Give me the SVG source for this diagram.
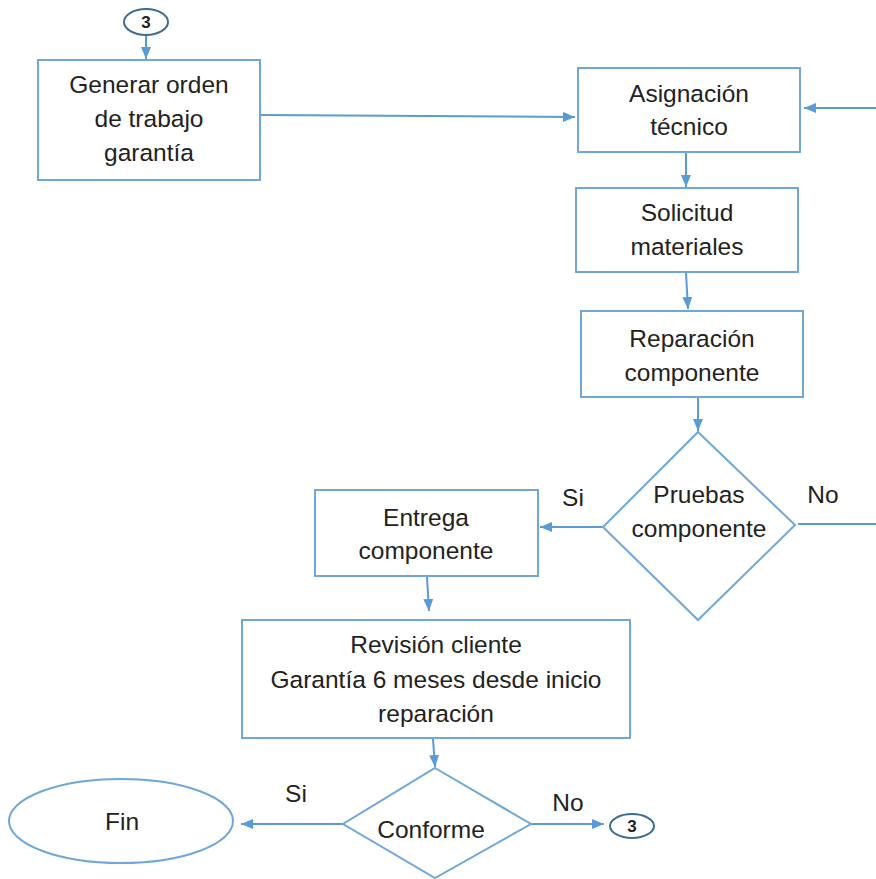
<svg xmlns="http://www.w3.org/2000/svg" width="876" height="879" viewBox="0 0 876 879">
<style>
.box{fill:#fff;stroke:#6fa6db;stroke-width:2}
.ln{fill:none;stroke:#5b9bd5;stroke-width:2}
.t{font-family:"Liberation Sans",Arial,sans-serif;font-size:24.5px;fill:#222;text-anchor:middle;dominant-baseline:central}
.c{font-family:"Liberation Sans",Arial,sans-serif;font-size:17px;font-weight:bold;fill:#222;text-anchor:middle;dominant-baseline:central}
</style>
<defs>
<marker id="ah" markerWidth="12" markerHeight="10" refX="12" refY="5" orient="auto" markerUnits="userSpaceOnUse">
<path d="M0,0 L12,5 L0,10 Z" fill="#5b9bd5"/>
</marker>
</defs>
<rect width="876" height="879" fill="#fff"/>
<g id="connectors">
<line class="ln" x1="146" y1="35" x2="146" y2="59" marker-end="url(#ah)"/>
<line class="ln" x1="261" y1="115" x2="575" y2="117" marker-end="url(#ah)"/>
<line class="ln" x1="876" y1="108" x2="804" y2="108" marker-end="url(#ah)"/>
<line class="ln" x1="686" y1="153" x2="686" y2="187" marker-end="url(#ah)"/>
<line class="ln" x1="686" y1="273" x2="688" y2="309" marker-end="url(#ah)"/>
<line class="ln" x1="698" y1="398" x2="698" y2="431" marker-end="url(#ah)"/>
<line class="ln" x1="798" y1="524" x2="876" y2="524"/>
<line class="ln" x1="603" y1="527" x2="540" y2="527" marker-end="url(#ah)"/>
<line class="ln" x1="427" y1="577" x2="429" y2="611" marker-end="url(#ah)"/>
<line class="ln" x1="433" y1="739" x2="435" y2="767" marker-end="url(#ah)"/>
<line class="ln" x1="343" y1="824" x2="241" y2="824" marker-end="url(#ah)"/>
<line class="ln" x1="531" y1="824" x2="604" y2="824" marker-end="url(#ah)"/>
<text class="t" x="573" y="497">Si</text>
<text class="t" x="823" y="494">No</text>
<text class="t" x="296" y="793">Si</text>
<text class="t" x="568" y="802">No</text>
</g>
<g id="conn3top">
<ellipse cx="146" cy="22" rx="22" ry="13" fill="#fff" stroke="#3e6d94" stroke-width="2"/>
<text class="c" x="146" y="22">3</text>
</g>
<g id="generar">
<rect class="box" x="38" y="60" width="222" height="120"/>
<text class="t" x="149" y="84">Generar orden</text>
<text class="t" x="149" y="118">de trabajo</text>
<text class="t" x="149" y="152">garantía</text>
</g>
<g id="asignacion">
<rect class="box" x="578" y="68" width="222" height="84"/>
<text class="t" x="689" y="93">Asignación</text>
<text class="t" x="689" y="126">técnico</text>
</g>
<g id="solicitud">
<rect class="box" x="576" y="188" width="222" height="84"/>
<text class="t" x="687" y="212">Solicitud</text>
<text class="t" x="687" y="246">materiales</text>
</g>
<g id="reparacion">
<rect class="box" x="581" y="311" width="222" height="86"/>
<text class="t" x="692" y="338">Reparación</text>
<text class="t" x="692" y="372">componente</text>
</g>
<g id="pruebas">
<polygon class="box" points="698,432 795,525 698,620 603,527"/>
<text class="t" x="699" y="494">Pruebas</text>
<text class="t" x="699" y="528">componente</text>
</g>
<g id="entrega">
<rect class="box" x="315" y="490" width="223" height="86"/>
<text class="t" x="426" y="517">Entrega</text>
<text class="t" x="426" y="550">componente</text>
</g>
<g id="revision">
<rect class="box" x="242" y="620" width="388" height="118"/>
<text class="t" x="436" y="644">Revisión cliente</text>
<text class="t" x="436" y="679">Garantía 6 meses desde inicio</text>
<text class="t" x="436" y="713">reparación</text>
</g>
<g id="conforme">
<polygon class="box" points="435,768 531,824 435,878 343,824"/>
<text class="t" x="431" y="829">Conforme</text>
</g>
<g id="fin">
<ellipse class="box" cx="121" cy="821" rx="112" ry="42"/>
<text class="t" x="122" y="821">Fin</text>
</g>
<g id="conn3bottom">
<ellipse cx="632" cy="826" rx="22" ry="12" fill="#fff" stroke="#3e6d94" stroke-width="2"/>
<text class="c" x="632" y="826">3</text>
</g>
</svg>
